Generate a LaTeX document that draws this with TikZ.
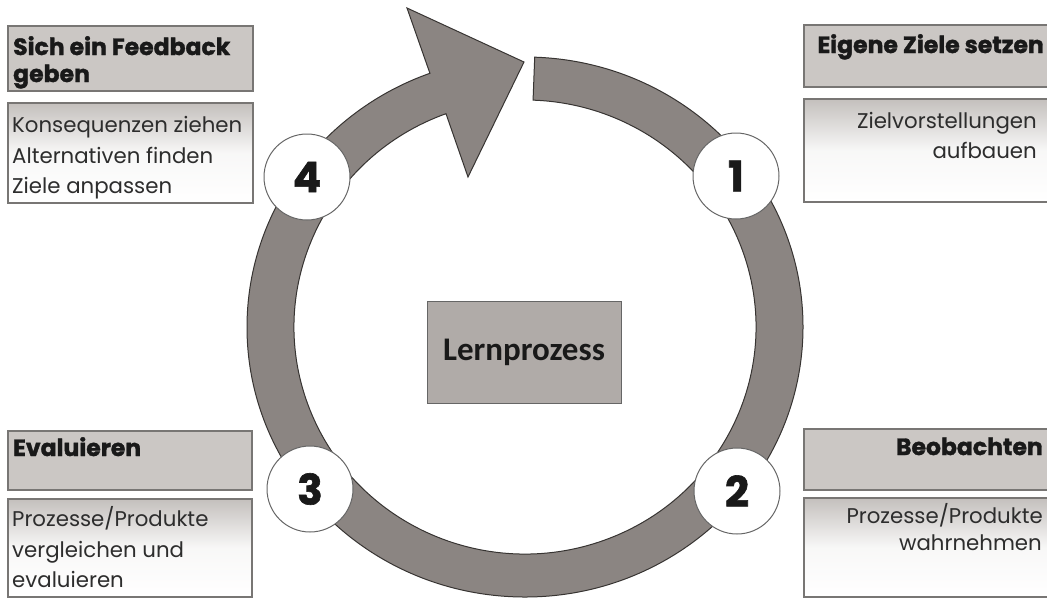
\documentclass[tikz,border=0pt]{standalone}
\usepackage{fontspec}
\newfontfamily\pop{Poppins}
\newfontfamily\poph{Poppins}[BoldFeatures={FakeBold=1.5}]
\newfontfamily\carl{Carlito}
\usetikzlibrary{calc}
\definecolor{ringfill}{RGB}{139,133,130}
\definecolor{ringline}{RGB}{55,52,50}
\definecolor{headfill}{RGB}{203,199,196}
\definecolor{boxline}{RGB}{120,118,116}
\definecolor{bodytop}{RGB}{196,192,189}
\definecolor{centerfill}{RGB}{176,171,168}
\definecolor{txt}{RGB}{45,45,45}
\tikzset{
  headbox/.style={fill=headfill,draw=boxline,line width=1.2pt},
  bodybox/.style={top color=bodytop,bottom color=white,middle color=white!88!bodytop,draw=boxline,line width=1.2pt},
  headtxt/.style={inner sep=0pt,font=\poph\bfseries\fontsize{23.5}{26}\selectfont,text=black!90},
  bodytxt/.style={inner sep=0pt,font=\pop\fontsize{21.3}{24}\selectfont,text=txt},
  numcirc/.style={circle,fill=white,draw=black!60,line width=1pt,minimum size=86pt,inner sep=0pt,font=\poph\bfseries\fontsize{42}{42}\selectfont,text=black!90},
}
\begin{document}
\begin{tikzpicture}[x=1pt,y=-1pt]
\useasboundingbox (0,0) rectangle (1047,598);
\clip (0,0) rectangle (1047,598);
\coordinate (c) at (525,327);
% ring with arrow
\filldraw[fill=ringfill,draw=ringline,line width=1pt,line join=miter]
  ($(c)+(88:278pt and 270pt)$) arc[start angle=88,end angle=-250,x radius=278pt,y radius=270pt]
  -- (407,8) -- (524,62) -- (468,177)
  -- ($(c)+(-250:231pt and 227pt)$) arc[start angle=-250,end angle=88,x radius=231pt,y radius=227pt] -- cycle;
% centre box
\node[fill=centerfill,draw=black!60,line width=1pt,minimum width=194pt,minimum height=102pt,inner sep=0pt,
  font=\carl\bfseries\fontsize{33}{34}\selectfont,text=black!90] (lp) at (524,352) {Lernprozess};
% number circles
\node[numcirc] (n1) at (736,176) {1};
\node[numcirc] (n2) at (737,491) {2};
\node[numcirc] (n3) at (310,489) {3};
\node[numcirc] (n4) at (307,177) {4};
% top left
\draw[headbox] (8,26) rectangle (253,91);
\draw[bodybox] (8,103) rectangle (253,203);
\node[headtxt,anchor=base west] (h4a) at (13,55) {Sich ein Feedback};
\node[headtxt,anchor=base west] (h4b) at (13,82) {geben};
\node[bodytxt,anchor=base west] (b4a) at (12,132) {Konsequenzen ziehen};
\node[bodytxt,anchor=base west] (b4b) at (12,163) {Alternativen finden};
\node[bodytxt,anchor=base west] (b4c) at (12,193) {Ziele anpassen};
% top right
\draw[headbox] (804,25) rectangle (1060,87);
\draw[bodybox] (804,99) rectangle (1060,202);
\node[headtxt,anchor=base east] (h1) at (1044,53) {Eigene Ziele setzen};
\node[bodytxt,anchor=base east] (b1a) at (1037,128) {Zielvorstellungen};
\node[bodytxt,anchor=base east] (b1b) at (1037,158) {aufbauen};
% bottom left
\draw[headbox] (8,431) rectangle (252,490);
\draw[bodybox] (8,499) rectangle (252,597);
\node[headtxt,anchor=base west] (h3) at (13,456) {Evaluieren};
\node[bodytxt,anchor=base west] (b3a) at (12,526) {Prozesse/Produkte};
\node[bodytxt,anchor=base west] (b3b) at (12,557) {vergleichen und};
\node[bodytxt,anchor=base west] (b3c) at (12,587) {evaluieren};
% bottom right
\draw[headbox] (804,429) rectangle (1060,490);
\draw[bodybox] (804,498) rectangle (1060,597);
\node[headtxt,anchor=base east] (h2) at (1043,455) {Beobachten};
\node[bodytxt,anchor=base east] (b2a) at (1043,523) {Prozesse/Produkte};
\node[bodytxt,anchor=base east] (b2b) at (1042,550) {wahrnehmen};
\end{tikzpicture}
\end{document}
